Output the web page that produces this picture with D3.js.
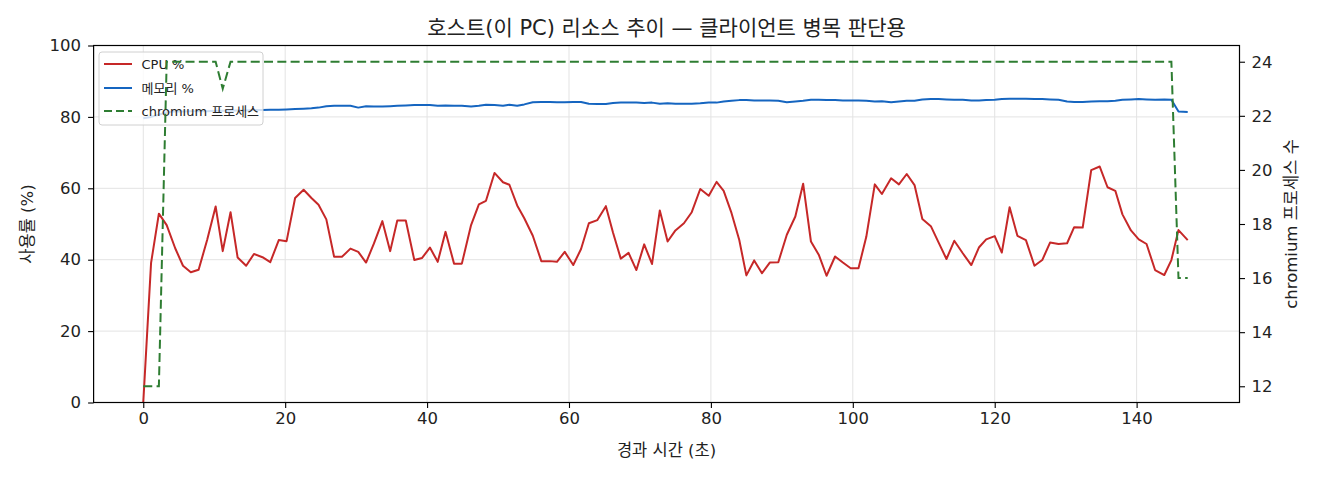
<!DOCTYPE html>
<html>
<head>
<meta charset="utf-8">
<script src="https://cdn.jsdelivr.net/npm/d3@7"></script>
<style>
  body { margin: 0; background: #fff; }
  text { font-family: "DejaVu Sans", "Noto Sans CJK KR", sans-serif; fill: #222; }
</style>
</head>
<body>
<svg id="chart" width="1320" height="480"></svg>
<script>
// elapsed seconds for each sample
const times = [
  0, 1.1, 2.2, 3.3, 4.5, 5.6, 6.7, 7.8, 9.0, 10.2,
  11.2, 12.3, 13.3, 14.5, 15.6, 16.8, 17.9, 19.1, 20.2, 21.4,
  22.6, 23.7, 24.7, 25.8, 26.9, 28.0, 29.2, 30.3, 31.4, 32.5,
  33.7, 34.8, 35.8, 37.0, 38.2, 39.3, 40.4, 41.5, 42.6, 43.8,
  44.9, 46.2, 47.3, 48.3, 49.5, 50.7, 51.6, 52.7, 53.7, 54.9,
  56.1, 57.3, 58.3, 59.4, 60.6, 61.7, 62.8, 64.0, 65.2, 66.2,
  67.3, 68.4, 69.5, 70.6, 71.7, 72.8, 73.9, 75.0, 76.2, 77.3,
  78.5, 79.7, 80.8, 81.8, 82.9, 84.0, 85.0, 86.1, 87.2, 88.3,
  89.5, 90.7, 91.9, 93.0, 94.1, 95.2, 96.3, 97.5, 98.6, 99.7,
  100.8, 101.9, 103.1, 104.1, 105.4, 106.5, 107.6, 108.7, 109.8, 111.0,
  112.1, 113.2, 114.3, 115.5, 116.7, 117.8, 118.8, 120.0, 121.0, 122.1,
  123.2, 124.4, 125.6, 126.7, 127.8, 129.0, 130.2, 131.2, 132.4, 133.6,
  134.8, 135.9, 137.0, 138.0, 139.2, 140.3, 141.4, 142.6, 143.9, 144.9,
  145.9, 147.2
];

const cpuPct = [
  0, 39.1, 52.9, 49.7, 43.2, 38.3, 36.5, 37.2, 45.5, 54.9,
  42.4, 53.3, 40.6, 38.3, 41.6, 40.7, 39.3, 45.5, 45.2, 57.3,
  59.6, 57.3, 55.4, 51.3, 40.8, 40.8, 43.1, 42.2, 39.2, 44.5,
  50.8, 42.4, 51.0, 51.0, 39.9, 40.5, 43.4, 39.4, 47.8, 38.9,
  38.9, 49.7, 55.5, 56.5, 64.3, 61.7, 61.0, 55.2, 51.6, 46.7,
  39.6, 39.6, 39.4, 42.2, 38.5, 43.0, 50.2, 51.1, 55.0, 47.6,
  40.3, 41.9, 37.1, 44.3, 38.8, 53.8, 45.1, 48.2, 50.2, 53.3,
  59.8, 57.9, 61.8, 59.3, 53.1, 45.5, 35.6, 39.8, 36.2, 39.2,
  39.3, 47.0, 52.1, 61.3, 45.1, 41.4, 35.5, 40.9, 39.2, 37.6,
  37.6, 46.4, 61.1, 58.4, 62.8, 61.1, 64.0, 60.9, 51.4, 49.4,
  44.8, 40.2, 45.3, 41.8, 38.5, 43.5, 45.7, 46.6, 42.0, 54.7,
  46.7, 45.5, 38.3, 39.9, 44.8, 44.4, 44.6, 49.1, 49.0, 65.1,
  66.1, 60.3, 59.3, 52.7, 48.2, 45.7, 44.4, 37.1, 35.7, 39.9,
  48.3, 45.5
];

const memPct = [
  79.6, 80.0, 80.6, 81.3, 81.5, 81.5, 81.6, 81.6, 81.6, 81.7,
  81.7, 81.7, 81.8, 81.8, 81.9, 81.9, 82.0, 82.0, 82.1, 82.2,
  82.3, 82.4, 82.6, 83.0, 83.1, 83.1, 83.1, 82.6, 83.0, 82.9,
  82.9, 83.0, 83.1, 83.2, 83.3, 83.3, 83.3, 83.1, 83.2, 83.1,
  83.1, 82.9, 83.1, 83.4, 83.3, 83.1, 83.4, 83.1, 83.5, 84.1,
  84.2, 84.2, 84.1, 84.1, 84.2, 84.2, 83.7, 83.6, 83.6, 83.9,
  84.0, 84.0, 84.0, 83.9, 84.0, 83.7, 83.8, 83.7, 83.7, 83.7,
  83.8, 84.0, 84.0, 84.3, 84.5, 84.7, 84.7, 84.6, 84.6, 84.6,
  84.5, 84.1, 84.3, 84.5, 84.8, 84.8, 84.7, 84.7, 84.6, 84.6,
  84.6, 84.5, 84.3, 84.4, 84.1, 84.3, 84.5, 84.5, 84.9, 85.0,
  85.0, 84.9, 84.8, 84.8, 84.6, 84.6, 84.7, 84.8, 85.0, 85.1,
  85.1, 85.1, 85.0, 85.0, 84.9, 84.8, 84.3, 84.2, 84.2, 84.3,
  84.4, 84.4, 84.5, 84.8, 84.9, 85.0, 84.9, 84.8, 84.9, 84.8,
  81.5, 81.4
];

const procCount = [
  12, 12, 12, 24, 24, 24, 24, 24, 24, 24,
  23, 24, 24, 24, 24, 24, 24, 24, 24, 24,
  24, 24, 24, 24, 24, 24, 24, 24, 24, 24,
  24, 24, 24, 24, 24, 24, 24, 24, 24, 24,
  24, 24, 24, 24, 24, 24, 24, 24, 24, 24,
  24, 24, 24, 24, 24, 24, 24, 24, 24, 24,
  24, 24, 24, 24, 24, 24, 24, 24, 24, 24,
  24, 24, 24, 24, 24, 24, 24, 24, 24, 24,
  24, 24, 24, 24, 24, 24, 24, 24, 24, 24,
  24, 24, 24, 24, 24, 24, 24, 24, 24, 24,
  24, 24, 24, 24, 24, 24, 24, 24, 24, 24,
  24, 24, 24, 24, 24, 24, 24, 24, 24, 24,
  24, 24, 24, 24, 24, 24, 24, 24, 24, 24,
  16, 16
];

const xTicks = [0, 20, 40, 60, 80, 100, 120, 140];
const pctTicks = [0, 20, 40, 60, 80, 100];
const procTicks = [12, 14, 16, 18, 20, 22, 24];

const seriesLabels = ["CPU %", "메모리 %", "chromium 프로세스"];
const seriesColors = ["#c62828", "#1565c0", "#2e7d32"];

var plotL = 93.6, plotR = 1239.5, plotT = 45.5, plotB = 402.5;

var svg = d3.select("#chart");

var x = d3.scaleLinear().domain([-7.0, 154.5]).range([plotL, plotR]);
var y = d3.scaleLinear().domain([0, 100]).range([plotB, plotT]);
var y2 = d3.scaleLinear().domain([11.4, 24.6]).range([plotB, plotT]);

// grid
var grid = svg.append("g").attr("stroke", "#e3e3e3").attr("stroke-width", 1);
grid.selectAll(".gx").data(xTicks).join("line")
    .attr("x1", d => x(d)).attr("x2", d => x(d))
    .attr("y1", plotT).attr("y2", plotB);
grid.selectAll(".gy").data(pctTicks).join("line")
    .attr("x1", plotL).attr("x2", plotR)
    .attr("y1", d => y(d)).attr("y2", d => y(d));

var idx = d3.range(times.length);

var cpuLine = d3.line().x(i => x(times[i])).y(i => y(cpuPct[i]));
var memLine = d3.line().x(i => x(times[i])).y(i => y(memPct[i]));
var procLine = d3.line().x(i => x(times[i])).y(i => y2(procCount[i]));

svg.append("path").datum(idx)
    .attr("d", cpuLine)
    .attr("fill", "none").attr("stroke", seriesColors[0])
    .attr("stroke-width", 2).attr("stroke-linejoin", "round");

svg.append("path").datum(idx)
    .attr("d", memLine)
    .attr("fill", "none").attr("stroke", seriesColors[1])
    .attr("stroke-width", 2).attr("stroke-linejoin", "round");

// legend (belongs to the left axes, so the dashed line is drawn over it)
var legend = svg.append("g");
legend.append("rect")
    .attr("x", 99).attr("y", 52).attr("width", 164).attr("height", 73)
    .attr("rx", 3)
    .attr("fill", "#fff").attr("fill-opacity", 0.8)
    .attr("stroke", "#d0d0d0");
var items = legend.selectAll(".item").data(seriesLabels).join("g")
    .attr("transform", (d, i) => `translate(0,${[64, 88, 111][i]})`);
items.append("line")
    .attr("x1", 104).attr("x2", 132)
    .attr("stroke", (d, i) => seriesColors[i])
    .attr("stroke-width", 2)
    .attr("stroke-dasharray", (d, i) => i == 2 ? "8,4" : null);
items.append("text")
    .attr("x", 141.5).attr("dy", "0.36em")
    .attr("font-size", 13)
    .text(d => d);

svg.append("path").datum(idx)
    .attr("d", procLine)
    .attr("fill", "none").attr("stroke", seriesColors[2])
    .attr("stroke-width", 2).attr("stroke-dasharray", "9,4.3");

// axes
var xAxis = svg.append("g")
    .attr("transform", `translate(0,${plotB})`)
    .call(d3.axisBottom(x).tickValues(xTicks).tickSize(5.5).tickPadding(4.5));
var yAxis = svg.append("g")
    .attr("transform", `translate(${plotL},0)`)
    .call(d3.axisLeft(y).tickValues(pctTicks).tickSize(5.5).tickPadding(7));
var y2Axis = svg.append("g")
    .attr("transform", `translate(${plotR},0)`)
    .call(d3.axisRight(y2).tickValues(procTicks).tickSize(5.5).tickPadding(6.5));

[xAxis, yAxis, y2Axis].forEach(function (a) {
    a.select(".domain").remove();
    a.selectAll(".tick line").attr("stroke", "#000").attr("stroke-width", 1.1);
    a.selectAll(".tick text").attr("font-size", 16.5).attr("fill", "#222")
        .attr("font-family", "\"DejaVu Sans\", sans-serif");
});

// frame
svg.append("rect")
    .attr("x", plotL).attr("y", plotT)
    .attr("width", plotR - plotL).attr("height", plotB - plotT)
    .attr("fill", "none").attr("stroke", "#000").attr("stroke-width", 1.2);

// labels
svg.append("text")
    .attr("x", (plotL + plotR) / 2).attr("y", 35)
    .attr("text-anchor", "middle").attr("font-size", 21)
    .text("호스트(이 PC) 리소스 추이 — 클라이언트 병목 판단용");

svg.append("text")
    .attr("x", (plotL + plotR) / 2).attr("y", 456)
    .attr("text-anchor", "middle").attr("font-size", 16.5)
    .text("경과 시간 (초)");

svg.append("text")
    .attr("transform", `translate(33,${(plotT + plotB) / 2}) rotate(-90)`)
    .attr("text-anchor", "middle").attr("font-size", 16.5)
    .text("사용률 (%)");

svg.append("text")
    .attr("transform", `translate(1297,${(plotT + plotB) / 2}) rotate(-90)`)
    .attr("text-anchor", "middle").attr("font-size", 16.5)
    .text("chromium 프로세스 수");
</script>
</body>
</html>
